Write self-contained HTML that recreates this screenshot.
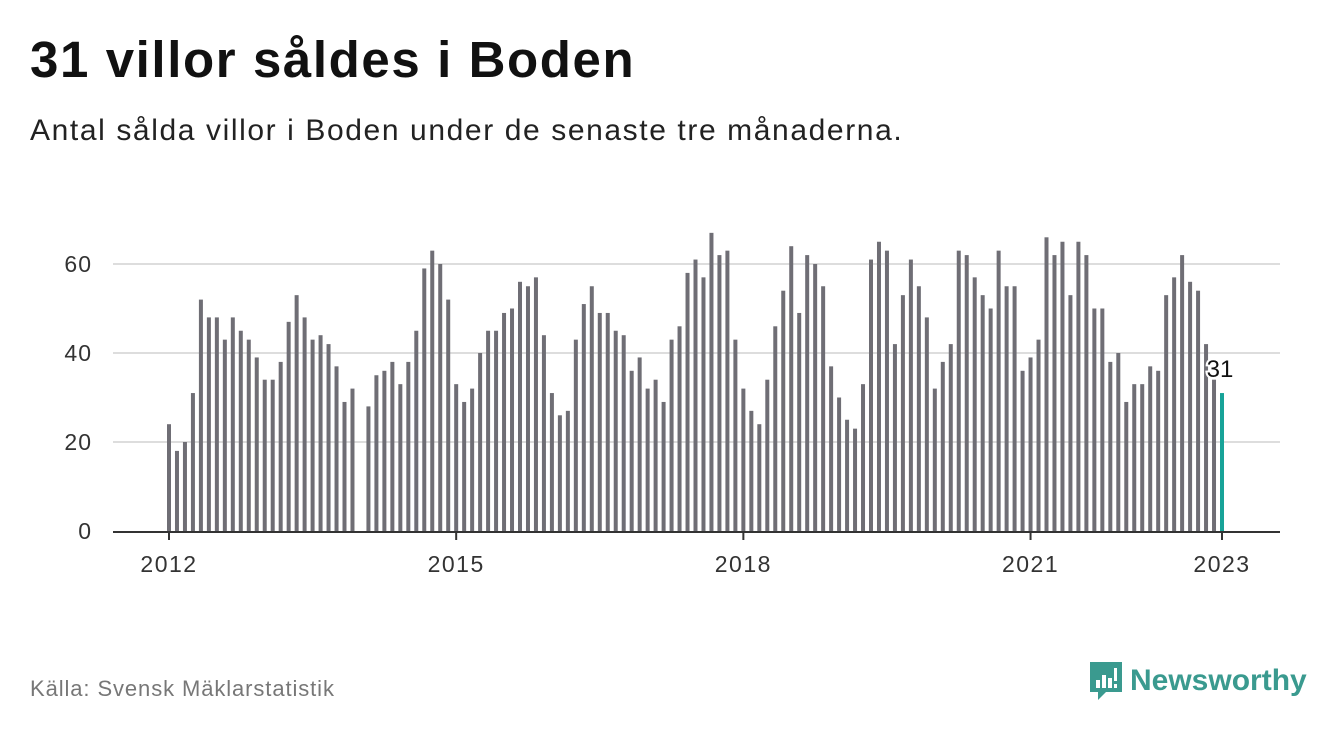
<!DOCTYPE html>
<html><head><meta charset="utf-8"><style>
body{margin:0;width:1340px;height:734px;background:#fff;font-family:"Liberation Sans","DejaVu Sans",sans-serif;overflow:hidden;position:relative}
h1{position:absolute;left:30px;top:30px;margin:0;font-size:51px;font-weight:bold;color:#111;letter-spacing:1.6px}
.sub{position:absolute;left:30px;top:114px;font-size:30px;color:#222;letter-spacing:1.6px}
.src{position:absolute;left:30px;top:676px;font-size:22px;color:#777;letter-spacing:0.9px}
.logo{position:absolute;left:1088px;top:660px;display:flex;align-items:center}
.logo span{font-size:30px;font-weight:bold;color:#3a9a8f;margin-left:6px}
</style></head><body>
<h1>31 villor såldes i Boden</h1>
<div class="sub">Antal sålda villor i Boden under de senaste tre månaderna.</div>
<svg id="chart" width="1340" height="734" style="position:absolute;left:0;top:0"></svg>
<div class="src">Källa: Svensk Mäklarstatistik</div>
<div class="logo">
<svg width="36" height="42" viewBox="0 0 36 42"><path d="M2 2h32v30H18l-8 8v-8H2z" fill="#3a9a8f"/><rect x="8" y="20" width="4" height="8" fill="#fff"/><rect x="14" y="15" width="4" height="13" fill="#fff"/><rect x="20" y="18" width="4" height="10" fill="#fff"/><rect x="26" y="8" width="3" height="13" fill="#fff"/><rect x="26" y="24" width="3" height="4" fill="#fff"/></svg>
<span>Newsworthy</span></div>
<script>
const years=[2012,2013,2014,2015,2016,2017,2018,2019,2020,2021,2022,2023];
const values=[24,18,20,31,52,48,48,43,48,45,43,39,
34,34,38,47,53,48,43,44,42,37,29,32,
null,28,35,36,38,33,38,45,59,63,60,52,
33,29,32,40,45,45,49,50,56,55,57,44,
31,26,27,43,51,55,49,49,45,44,36,39,
32,34,29,43,46,58,61,57,67,62,63,43,
32,27,24,34,46,54,64,49,62,60,55,37,
30,25,23,33,61,65,63,42,53,61,55,48,
32,38,42,63,62,57,53,50,63,55,55,36,
39,43,66,62,65,53,65,62,50,50,38,40,
29,33,33,37,36,53,57,62,56,54,42,34,
31];
const yTicks=[0,20,40,60];
const xTickLabels=["2012","2015","2018","2021","2023"];
const xTickYears=[2012,2015,2018,2021,2023];
const svg=document.getElementById('chart');
const NS='http://www.w3.org/2000/svg';
const x0=169,mw=(1222-169)/132,y0=531,yk=(531-264)/60;
const X=i=>x0+i*mw, Y=v=>y0-v*yk;
function el(t,a){const e=document.createElementNS(NS,t);for(const k in a)e.setAttribute(k,a[k]);svg.appendChild(e);return e;}
yTicks.forEach(t=>{
 if(t>0){const g=el('line',{x1:113,x2:1280,y1:Y(t),y2:Y(t),stroke:'#ddd','stroke-width':2});
 
 }
 const l=el('text',{x:92,y:Y(t)+8,'text-anchor':'end','font-size':23,fill:'#333','letter-spacing':1});l.textContent=t;
 
 
});
values.forEach((v,i)=>{
 if(v==null)return;
 const last=i===values.length-1;
 const r=el('rect',{x:X(i)-2,y:Y(v),width:4,height:v*yk,fill:last?'#17a398':'#6f6e75'});
 
 
 if(last){
  const t=el('text',{x:X(i)-2,y:Y(v)-16,'text-anchor':'middle','font-size':24,fill:'#111',stroke:'#fff','stroke-width':4,'paint-order':'stroke'});t.textContent=v;
  
  
 }
});
const ax=el('line',{x1:113,x2:1280,y1:y0+1,y2:y0+1,stroke:'#333','stroke-width':2});


xTickYears.forEach((yr,k)=>{
 const xi=X((yr-years[0])*12);
 const tk=el('line',{x1:xi,x2:xi,y1:y0,y2:y0+9,stroke:'#333','stroke-width':2});
 
 
 const l=el('text',{x:xi,y:572,'text-anchor':'middle','font-size':23,fill:'#333','letter-spacing':1.5});l.textContent=xTickLabels[k];
 
 
});
</script>
</body></html>
